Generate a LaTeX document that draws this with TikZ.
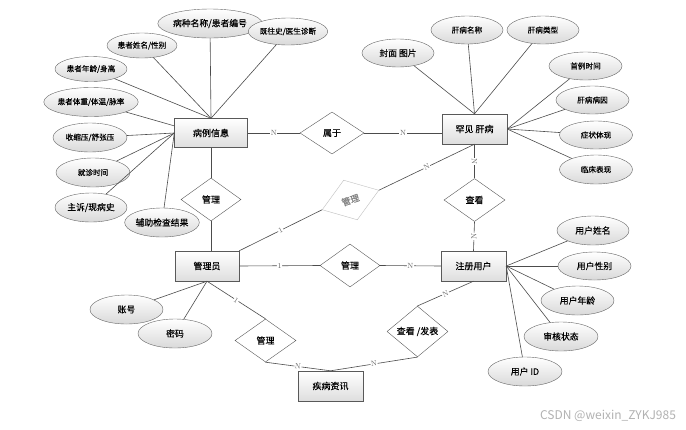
\documentclass[tikz,border=0pt]{standalone}
\usepackage{fontspec}
\newfontfamily\cjk{Noto Sans CJK SC}[FakeBold=0.3]
\newfontfamily\cjkwm{Noto Sans CJK SC}
\usetikzlibrary{shapes.geometric}
\tikzset{
  entity/.style={draw=black!65, top color=white, bottom color=black!13, minimum width=65, minimum height=30, inner sep=0pt, font=\cjk\fontsize{9}{10}\selectfont},
  attr/.style={ellipse, draw=black!60, top color=white, bottom color=black!15, minimum width=73, minimum height=29, inner sep=0pt, font=\cjk\fontsize{7.6}{9}\selectfont},
  big/.style={font=\cjk\fontsize{8.8}{10}\selectfont},
  rel/.style={diamond, draw=black!65, fill=white, minimum width=61, minimum height=43, inner sep=0pt, font=\cjk\fontsize{9}{10}\selectfont},
  conn/.style={draw=black!70, line width=0.6pt},
  lbl/.style={fill=white, inner sep=0.6pt, sloped, text=black!60, font=\fontsize{7.5}{8}\selectfont}
}
\begin{document}
\begin{tikzpicture}[x=1pt,y=-1pt]
\useasboundingbox[fill=white] (0,0) rectangle (686,429);
% entities
\node[entity, minimum width=73, minimum height=29] (bl) at (211,133) {病例信息};
\node[entity] (ls) at (474.5,129) {罕见 肝病};
\node[entity, minimum width=64] (gl) at (207,266) {管理员};
\node[entity] (zc) at (473.5,266) {注册用户};
\node[entity] (jb) at (330.5,386) {疾病资讯};
% relations
\node[rel, minimum width=64, minimum height=42] (r1) at (332,133) {属于};
\node[rel, minimum width=60] (r2) at (211,199.5) {管理};
\node[rel, minimum width=60, minimum height=42, draw=black!25, rotate=19, text=black!50] (r3) at (350.5,200) {管理};
\node[rel] (r4) at (474.5,200) {查看};
\node[rel, minimum width=60] (r5) at (350,265.5) {管理};
\node[rel] (r6) at (265.5,340.5) {管理};
\node[rel] (r7) at (417.5,331.5) {查看 /发表};
% attributes of 病例信息
\node[attr, big, minimum width=84] (a1) at (210,23.5) {病种名称/患者编号};
\node[attr, minimum width=74, minimum height=27] (a2) at (288,31.5) {既往史/医生诊断};
\node[attr, minimum width=70, minimum height=25] (a3) at (142,45.5) {患者姓名/性别};
\node[attr, minimum width=72, minimum height=25] (a4) at (91,69) {患者年龄/身高};
\node[attr, minimum width=72] (a5) at (91,102) {患者体重/体温/脉率};
\node[attr, minimum width=74] (a6) at (90,137.5) {收缩压/舒张压};
\node[attr, minimum width=74] (a7) at (93,172.5) {就诊时间};
\node[attr, big, minimum width=72] (a8) at (91,207.5) {主诉/现病史};
\node[attr, big, minimum width=72] (a9) at (162,222.5) {辅助检查结果};
% attributes of 罕见肝病
\node[attr, big, minimum width=72, minimum height=28] (b1) at (398,53) {封面 图片};
\node[attr, minimum width=72, minimum height=28] (b2) at (467,30) {肝病名称};
\node[attr, minimum width=72, minimum height=28] (b3) at (543,30) {肝病类型};
\node[attr, minimum height=28] (b4) at (585.5,66) {首例时间};
\node[attr, minimum height=28] (b5) at (592.5,100) {肝病病因};
\node[attr, minimum height=28] (b6) at (596,135) {症状体现};
\node[attr] (b7) at (596,169.5) {临床表现};
% attributes of 注册用户
\node[attr, big, minimum width=72] (c1) at (593,230.5) {用户姓名};
\node[attr, big, minimum height=28] (c2) at (594.5,266) {用户性别};
\node[attr, big] (c3) at (577.5,300.5) {用户年龄};
\node[attr, big, minimum width=74] (c4) at (561,336.5) {审核状态};
\node[attr, big, minimum width=74] (c5) at (525,371.5) {用户 ID};
% attributes of 管理员
\node[attr, big] (d1) at (126.5,309.5) {账号};
\node[attr, big, minimum width=74] (d2) at (175,333.5) {密码};
% attribute connectors
\draw[conn] (a1) -- (bl.north);
\draw[conn] (a2) -- (bl.north);
\draw[conn] (a3) -- (bl.north);
\draw[conn] (a4) -- (bl.north);
\draw[conn] (a5) -- (bl.169);
\draw[conn] (a6) -- (bl.west);
\draw[conn] (a7) -- (bl.west);
\draw[conn] (a8) -- (bl.west);
\draw[conn] (a9) -- (bl.west);
\draw[conn] (b1) -- (ls.north);
\draw[conn] (b2) -- (ls.north);
\draw[conn] (b3) -- (ls.north);
\draw[conn] (b4) -- (ls.east);
\draw[conn] (b5) -- (ls.east);
\draw[conn] (b6) -- (ls.east);
\draw[conn] (b7) -- (ls.east);
\draw[conn] (c1) -- (zc.east);
\draw[conn] (c2) -- (zc.east);
\draw[conn] (c3) -- (zc.east);
\draw[conn] (c4) -- (zc.east);
\draw[conn] (c5) -- (zc.east);
\draw[conn] (d1) -- (gl.south);
\draw[conn] (d2) -- (gl.south);
% relationship connectors
\draw[conn] (bl.east) -- node[lbl] {N} (r1.west);
\draw[conn] (r1.east) -- node[lbl] {N} (r1.east -| ls.west);
\draw[conn] (bl.south) -- (r2.north);
\draw[conn] (r2.south) -- (r2.south |- gl.north);
\draw[conn] (gl.north east) -- node[lbl] {1} (r3.west);
\draw[conn] (r3.east) -- node[lbl] {N} (ls.south);
\draw[conn] (ls.south) -- node[lbl] {N} (r4.north);
\draw[conn] (r4.south) -- node[lbl] {N} (zc.north);
\draw[conn] (gl.east) -- node[lbl] {1} (r5.west);
\draw[conn] (r5.east) -- node[lbl] {N} (zc.west);
\draw[conn] (gl.south) -- node[lbl] {1} (r6.north);
\draw[conn] (r6.south) -- node[lbl] {N} (jb.north);
\draw[conn] (r7.south) -- node[lbl] {N} (jb.north);
\draw[conn] (zc.south) -- node[lbl] {N} (r7.north);
% watermark
\node[text=black!30, font=\cjkwm\fontsize{12}{13}\selectfont, inner sep=0pt] (wm) at (608,416) {CSDN @weixin\_ZYKJ985};
\end{tikzpicture}
\end{document}
